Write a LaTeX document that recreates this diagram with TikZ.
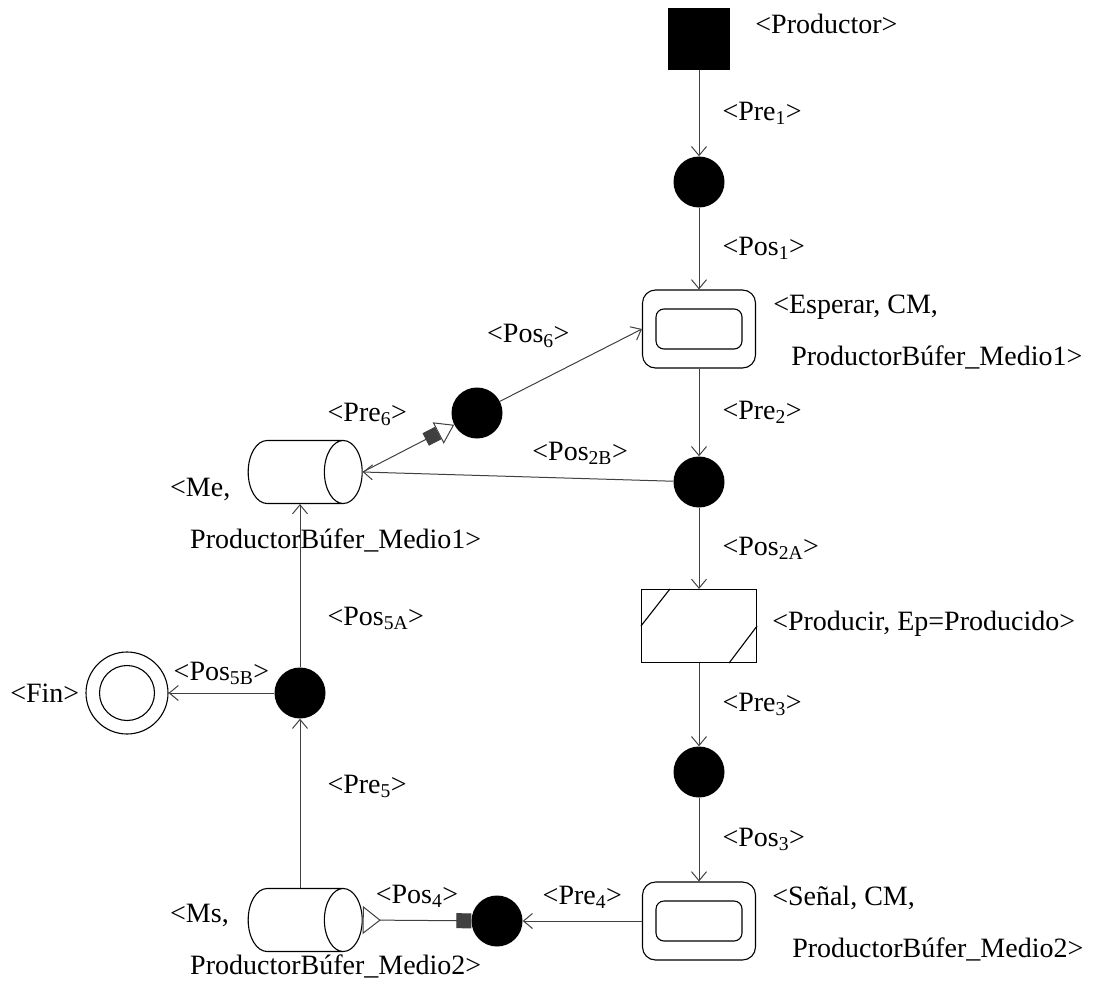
\documentclass[tikz,border=0pt]{standalone}
\usepackage{fontspec}
\setmainfont{Liberation Serif}
\usepackage{tikz}
\usetikzlibrary{shapes.geometric,arrows.meta,positioning}

\tikzset{
  lbl/.style={inner sep=0pt, font=\fontsize{28}{52}\selectfont, align=left},
  place/.style={circle, fill=black, minimum size=51pt, inner sep=0pt},
  source/.style={rectangle, fill=black, minimum size=62pt, inner sep=0pt},
  waitbox/.style={rectangle, draw, rounded corners=13pt, minimum width=113pt, minimum height=78pt, line width=1.1pt},
  waitin/.style={rectangle, draw, rounded corners=8pt, minimum width=86pt, minimum height=40pt, line width=1.1pt},
  taskbox/.style={rectangle, draw, minimum width=115pt, minimum height=73pt, line width=1.1pt},
  buffer/.style={cylinder, draw, shape aspect=0.6, inner xsep=0pt, inner ysep=31.5pt, minimum height=114pt, minimum width=63pt, line width=1.1pt},
  ring/.style={circle, draw, inner sep=0pt, line width=1.1pt},
  flow/.style={draw=black!75, line width=1pt},
}

\begin{document}
\begin{tikzpicture}[x=1pt, y=-1pt, >={Straight Barb[length=9pt,width=15pt]}]
\useasboundingbox (0,0) rectangle (1107,1003);

% places and transitions
\node[source] (prod) at (699,39) {};
\node[place] (c1) at (699,182) {};
\node[waitbox] (esperar) at (699,329) {};
\node[waitin] (esperarIn) at (esperar) {};
\node[place] (c2) at (699,482) {};
\node[taskbox] (producir) at (699,626) {};
\node[place] (c3) at (699,772) {};
\node[waitbox] (senal) at (699,921) {};
\node[waitin] (senalIn) at (senal) {};
\node[place] (c4) at (497,921) {};
\node[buffer] (cylMs) at (286,920) {};
\node[place] (c5) at (300,693) {};
\node[ring, minimum size=82pt] (fin) at (127,693) {};
\node[ring, minimum size=55pt] (finIn) at (fin) {};
\node[buffer] (cylMe) at (286,472) {};
\node[place] (c6) at (477,413) {};

% hatch marks of the task box
\draw[line width=1.1pt] (producir.west) -- ([xshift=29pt]producir.north west);
\draw[line width=1.1pt] (producir.east) -- ([xshift=-28pt]producir.south east);

% side labels
\node[lbl, right=25pt of prod, yshift=15pt] (prodLbl) {<Productor>};
\node[lbl, right=17pt of esperar, yshift=-3pt] (esperarLbl) {<Esperar, CM,\\\hspace*{18pt}ProductorBúfer\_Medio1>};
\node[lbl, right=15pt of producir, yshift=2pt] (producirLbl) {<Producir, Ep=Producido>};
\node[lbl, right=16pt of senal, yshift=-3pt] (senalLbl) {<Señal, CM,\\\hspace*{20pt}ProductorBúfer\_Medio2>};
\node[lbl, anchor=west] (meLbl) at (170,515) {<Me,\\\hspace*{20pt}ProductorBúfer\_Medio1>};
\node[lbl, anchor=west] (msLbl) at (170,941) {<Ms,\\\hspace*{20pt}ProductorBúfer\_Medio2>};
\node[lbl, left=6pt of fin] (finLbl) {<Fin>};

% arcs
\draw[flow,->] (prod) -- node[lbl, right=23pt] (pre1) {<Pre\textsubscript{1}>} (c1);
\draw[flow,->] (c1) -- node[lbl, right=23pt] (pos1) {<Pos\textsubscript{1}>} (esperar);
\draw[flow,->] (esperar) -- node[lbl, right=23pt] (pre2) {<Pre\textsubscript{2}>} (c2);
\draw[flow,->] (c2) -- node[lbl, right=23pt] (pos2A) {<Pos\textsubscript{2A}>} (producir);
\draw[flow,->] (producir) -- node[lbl, right=23pt] (pre3) {<Pre\textsubscript{3}>} (c3);
\draw[flow,->] (c3) -- node[lbl, right=23pt] (pos3) {<Pos\textsubscript{3}>} (senal);
\draw[flow,->] (c2) -- node[lbl, pos=0.3, above=13pt] (pos2B) {<Pos\textsubscript{2B}>} (cylMe.east);
\draw[flow,->] (senal) -- node[lbl, above=12pt] (pre4) {<Pre\textsubscript{4}>} (c4);
\draw[flow, {Triangle[reversed,length=18pt,width=28pt,fill=white]}-{Square[length=15pt]}]
  (cylMs.east) -- node[lbl, above=12pt] (pos4) {<Pos\textsubscript{4}>} (c4);
\draw[flow,->] (c5 |- cylMs.north) -- node[lbl, pos=0.6, right=27pt] (pre5) {<Pre\textsubscript{5}>} (c5);
\draw[flow,->] (c5) -- node[lbl, pos=0.3, right=27pt] (pos5A) {<Pos\textsubscript{5A}>} (c5 |- cylMe.south);
\draw[flow,->] (c5) -- node[lbl, above=8pt] (pos5B) {<Pos\textsubscript{5B}>} (fin);
\draw[flow, -{Square[length=14pt] Triangle[length=18pt,width=24pt,fill=white]}]
  (cylMe.east) -- node[lbl, pos=0.05, above=43pt] (pre6) {<Pre\textsubscript{6}>} (c6);
\draw[flow,->] (c6) -- node[lbl, pos=0.2, above=39pt] (pos6) {<Pos\textsubscript{6}>} (esperar.west);

\end{tikzpicture}
\end{document}
